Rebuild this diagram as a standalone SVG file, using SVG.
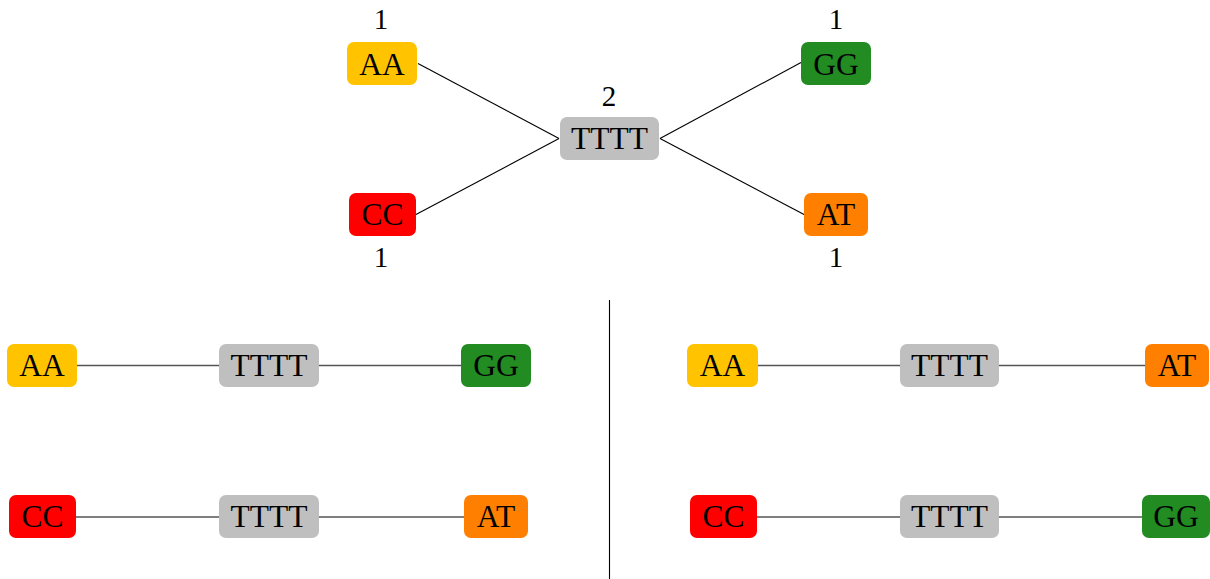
<svg xmlns="http://www.w3.org/2000/svg" width="1210" height="579" viewBox="0 0 1210 579">
<style>
text{font-family:"Liberation Serif","Times New Roman",serif;font-size:31.5px;fill:#000;text-anchor:middle}
text.num{font-size:29px}
.n rect{stroke:none}
.aa{fill:#FFC300}.cc{fill:#FF0000}.gg{fill:#228B22}.at{fill:#FF8000}.tt{fill:#BFBFBF}
.top line{stroke:#000;stroke-width:1.1}
.bot line{stroke:#555;stroke-width:1.3}
</style>
<g id="connectors">
<g class="top">
<line x1="418" y1="63.5" x2="559" y2="138.5"/>
<line x1="416" y1="214.5" x2="559" y2="138.5"/>
<line x1="660" y1="138.5" x2="801" y2="62.5"/>
<line x1="660" y1="138.5" x2="805" y2="215"/>
</g>
<g class="bot">
<line x1="77" y1="365.5" x2="220" y2="365.5"/>
<line x1="318" y1="365.5" x2="462" y2="365.5"/>
<line x1="75" y1="517" x2="220" y2="517"/>
<line x1="318" y1="517" x2="465" y2="517"/>
<line x1="758" y1="365.5" x2="901" y2="365.5"/>
<line x1="998" y1="365.5" x2="1146" y2="365.5"/>
<line x1="756" y1="517" x2="901" y2="517"/>
<line x1="998" y1="517" x2="1143" y2="517"/>
</g>
<line id="divider" x1="609.5" y1="300" x2="609.5" y2="579" stroke="#000" stroke-width="1.1"/>
</g>
<g id="top-AA" class="n"><rect class="aa" x="347" y="42" width="70" height="43" rx="7"/><text x="382" y="75">AA</text><text class="num" x="381" y="29">1</text></g>
<g id="top-CC" class="n"><rect class="cc" x="349" y="193" width="67" height="43" rx="7"/><text x="382.5" y="225">CC</text><text class="num" x="381" y="267">1</text></g>
<g id="top-TTTT" class="n"><rect class="tt" x="560" y="117" width="99" height="43" rx="7"/><text x="609.5" y="149">TTTT</text><text class="num" x="609" y="106">2</text></g>
<g id="top-GG" class="n"><rect class="gg" x="801" y="42" width="70" height="43" rx="7"/><text x="836" y="75">GG</text><text class="num" x="836" y="29">1</text></g>
<g id="top-AT" class="n"><rect class="at" x="804" y="193" width="64" height="43" rx="7"/><text x="836" y="225">AT</text><text class="num" x="836" y="267">1</text></g>

<g id="bl-AA" class="n"><rect class="aa" x="7" y="344" width="70" height="43" rx="7"/><text x="42" y="376">AA</text></g>
<g id="bl-TTTT1" class="n"><rect class="tt" x="219" y="344" width="100" height="43" rx="7"/><text x="269" y="376">TTTT</text></g>
<g id="bl-GG" class="n"><rect class="gg" x="461" y="344" width="70" height="43" rx="7"/><text x="496" y="376">GG</text></g>
<g id="bl-CC" class="n"><rect class="cc" x="9" y="495" width="67" height="43" rx="7"/><text x="42.5" y="527">CC</text></g>
<g id="bl-TTTT2" class="n"><rect class="tt" x="219" y="495" width="100" height="43" rx="7"/><text x="269" y="527">TTTT</text></g>
<g id="bl-AT" class="n"><rect class="at" x="464" y="495" width="64" height="43" rx="7"/><text x="496" y="527">AT</text></g>

<g id="br-AA" class="n"><rect class="aa" x="687" y="344" width="71" height="43" rx="7"/><text x="722.5" y="376">AA</text></g>
<g id="br-TTTT1" class="n"><rect class="tt" x="900" y="344" width="99" height="43" rx="7"/><text x="949.5" y="376">TTTT</text></g>
<g id="br-AT" class="n"><rect class="at" x="1145" y="344" width="64" height="43" rx="7"/><text x="1177" y="376">AT</text></g>
<g id="br-CC" class="n"><rect class="cc" x="690" y="495" width="67" height="43" rx="7"/><text x="723.5" y="527">CC</text></g>
<g id="br-TTTT2" class="n"><rect class="tt" x="900" y="495" width="99" height="43" rx="7"/><text x="949.5" y="527">TTTT</text></g>
<g id="br-GG" class="n"><rect class="gg" x="1142" y="495" width="68" height="43" rx="7"/><text x="1176" y="527">GG</text></g>
</svg>
